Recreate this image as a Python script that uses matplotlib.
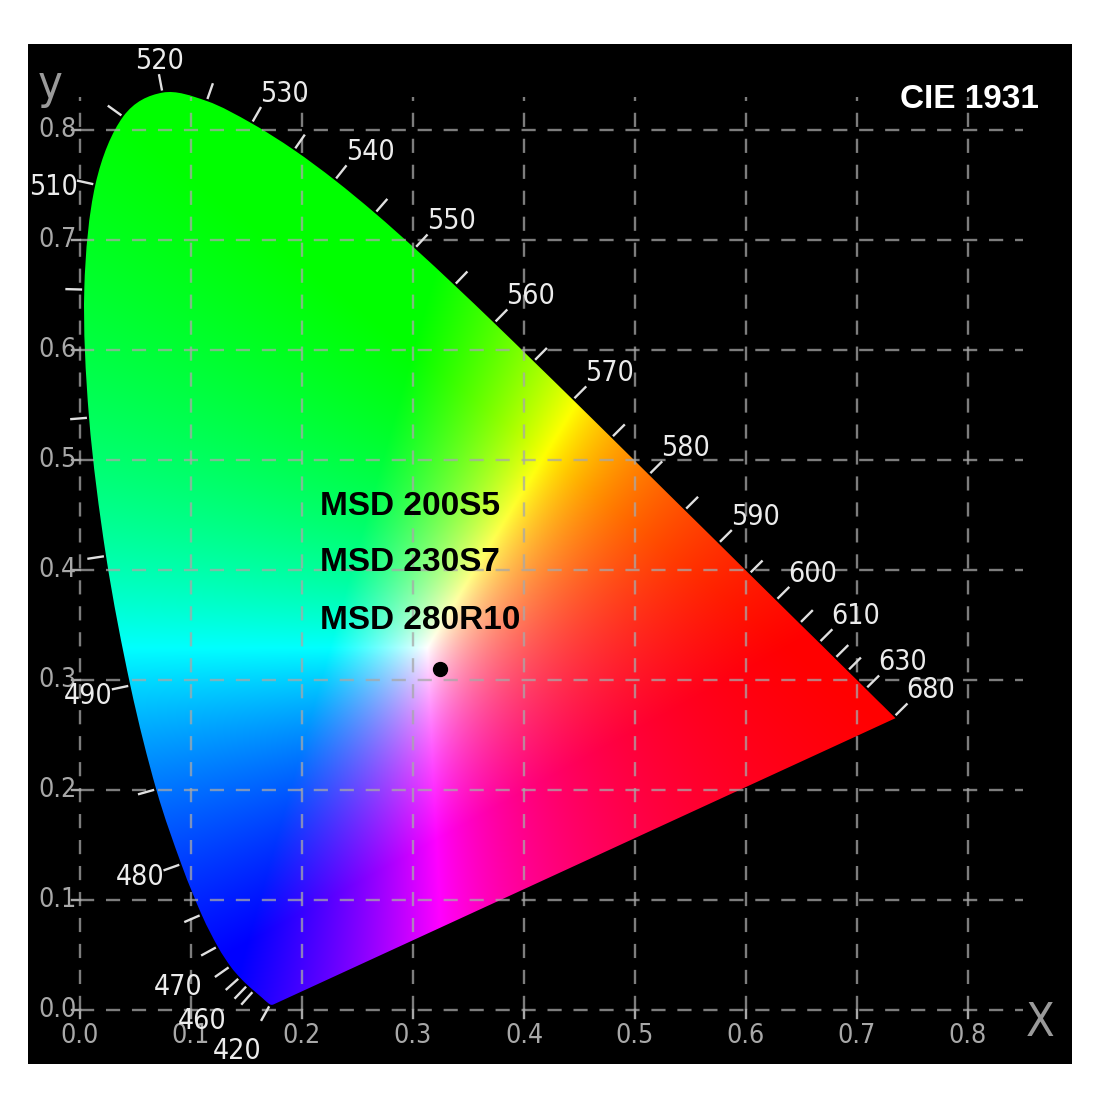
import numpy as np
import matplotlib
matplotlib.use("Agg")
import matplotlib.pyplot as plt
from matplotlib.patches import PathPatch
from matplotlib.path import Path
from matplotlib import font_manager
from matplotlib.font_manager import FontProperties

# CIE 1931 spectral locus, 5 nm steps
wavelengths = [380, 385, 390, 395, 400, 405, 410, 415, 420, 425, 430, 435, 440, 445,
               450, 455, 460, 465, 470, 475, 480, 485, 490, 495, 500, 505, 510, 515,
               520, 525, 530, 535, 540, 545, 550, 555, 560, 565, 570, 575, 580, 585,
               590, 595, 600, 605, 610, 615, 620, 625, 630, 635, 640, 645, 650, 655,
               660, 665, 670, 675, 680, 685, 690, 695, 700]
locus_x = [0.1741, 0.1740, 0.1738, 0.1736, 0.1733, 0.1730, 0.1726, 0.1721, 0.1714,
           0.1703, 0.1689, 0.1669, 0.1644, 0.1611, 0.1566, 0.1510, 0.1440, 0.1355,
           0.1241, 0.1096, 0.0913, 0.0687, 0.0454, 0.0235, 0.0082, 0.0039, 0.0139,
           0.0389, 0.0743, 0.1142, 0.1547, 0.1929, 0.2296, 0.2658, 0.3016, 0.3373,
           0.3731, 0.4087, 0.4441, 0.4788, 0.5125, 0.5448, 0.5752, 0.6029, 0.6270,
           0.6482, 0.6658, 0.6801, 0.6915, 0.7006, 0.7079, 0.7140, 0.7190, 0.7230,
           0.7260, 0.7283, 0.7300, 0.7311, 0.7320, 0.7327, 0.7334, 0.7340, 0.7344,
           0.7346, 0.7347]
locus_y = [0.0050, 0.0050, 0.0049, 0.0049, 0.0048, 0.0048, 0.0048, 0.0048, 0.0051,
           0.0058, 0.0069, 0.0086, 0.0109, 0.0138, 0.0177, 0.0227, 0.0297, 0.0399,
           0.0578, 0.0868, 0.1327, 0.2007, 0.2950, 0.4127, 0.5384, 0.6548, 0.7502,
           0.8120, 0.8338, 0.8262, 0.8059, 0.7816, 0.7543, 0.7243, 0.6923, 0.6589,
           0.6245, 0.5896, 0.5547, 0.5202, 0.4866, 0.4544, 0.4242, 0.3965, 0.3725,
           0.3514, 0.3340, 0.3197, 0.3083, 0.2993, 0.2920, 0.2859, 0.2809, 0.2770,
           0.2740, 0.2717, 0.2700, 0.2689, 0.2680, 0.2673, 0.2666, 0.2660, 0.2656,
           0.2654, 0.2653]

label_wl = [420, 460, 470, 480, 490, 510, 520, 530, 540, 550, 560, 570, 580, 590,
            600, 610, 630, 680]
tick_wl = [420] + list(range(450, 625, 5)) + [630, 680]

grid_ticks = [0.0, 0.1, 0.2, 0.3, 0.4, 0.5, 0.6, 0.7, 0.8]
tick_labels = ["0.0", "0.1", "0.2", "0.3", "0.4", "0.5", "0.6", "0.7", "0.8"]

point_xy = (0.324, 0.310)
names = ["MSD 200S5", "MSD 230S7", "MSD 280R10"]
names_y = [0.458, 0.407, 0.354]

# look for a condensed font for the gray tick texts
cond_file = None
for f in font_manager.fontManager.ttflist:
    low = f.fname.lower()
    if ("narrow" in low or "condensed" in low) and "bold" not in low and "oblique" not in low \
            and "italic" not in low and "mono" not in low and "serif" not in low:
        cond_file = f.fname
        break


def tick_font(size):
    if cond_file:
        return FontProperties(fname=cond_file, size=size * 1.2)
    return FontProperties(family="DejaVu Sans", size=size)


fig = plt.figure(figsize=(11, 11), dpi=100, facecolor="white")
ax = fig.add_axes([28 / 1100, 1 - 1064 / 1100, 1044 / 1100, 1020 / 1100])
ax.set_xlim(-0.0468, 0.8937)
ax.set_ylim(-0.049, 0.878)
ax.axis("off")
ax.add_patch(plt.Rectangle((0, 0), 1, 1, transform=ax.transAxes, color="black", zorder=0))

# colour fill of the horseshoe
xs = np.linspace(0, 0.75, 750)
ys = np.linspace(0.001, 0.85, 850)
X, Y = np.meshgrid(xs, ys)
XX = X / Y
ZZ = (1 - X - Y) / Y
M = np.array([[3.2406, -1.5372, -0.4986],
              [-0.9689, 1.8758, 0.0415],
              [0.0557, -0.2040, 1.0570]])
rgb = np.stack([M[i, 0] * XX + M[i, 1] + M[i, 2] * ZZ for i in range(3)], axis=-1)
rgb = np.clip(rgb, 0, None)
rgb = rgb / rgb.max(axis=-1, keepdims=True)

im = ax.imshow(rgb, origin="lower", extent=[0, 0.75, 0.001, 0.85],
               interpolation="bilinear", zorder=1, aspect="auto")

# smooth outline through the locus points (Catmull-Rom as cubic Bezier)
pts = np.column_stack([locus_x, locus_y])
verts = [pts[0]]
codes = [Path.MOVETO]
for k in range(len(pts) - 1):
    p0 = pts[max(k - 1, 0)]
    p1 = pts[k]
    p2 = pts[k + 1]
    p3 = pts[min(k + 2, len(pts) - 1)]
    verts += [p1 + (p2 - p0) / 6, p2 - (p3 - p1) / 6, p2]
    codes += [Path.CURVE4] * 3
verts += [pts[0], pts[0]]
codes += [Path.LINETO, Path.CLOSEPOLY]
horseshoe = PathPatch(Path(verts, codes), transform=ax.transData,
                      facecolor="none", edgecolor="none")
ax.add_patch(horseshoe)
im.set_clip_path(horseshoe)

# dashed grid on top
for v in grid_ticks:
    ax.plot([v, v], [0, 0.83], color="#a8a8a8", lw=1.7, ls=(0, (6, 5)), alpha=0.75, zorder=2)
    ax.plot([0, 0.85], [v, v], color="#a8a8a8", lw=1.7, ls=(0, (6, 5)), alpha=0.75, zorder=2)
    ax.plot([-0.007, 0], [v, v], color="#a8a8a8", lw=1.7, zorder=2)
    ax.plot([v, v], [-0.007, 0], color="#a8a8a8", lw=1.7, zorder=2)

for v, t in zip(grid_ticks, tick_labels):
    ax.text(-0.003, v, t, ha="right", va="center", color="#a8a8a8",
            fontproperties=tick_font(16), zorder=3)
    ax.text(v, -0.012, t, ha="center", va="top", color="#a8a8a8",
            fontproperties=tick_font(16), zorder=3)

ax.text(-0.027, 0.84, "y", ha="center", va="center", color="#9a9a9a",
        fontproperties=tick_font(28))
ax.text(0.865, -0.012, "X", ha="center", va="center", color="#9a9a9a",
        fontproperties=tick_font(28))

# wavelength ticks and labels
lx = np.array(locus_x)
ly = np.array(locus_y)
wl = list(wavelengths)


def normal_at(w):
    i = wl.index(w)
    tx = lx[i + 1] - lx[i - 1]
    ty = ly[i + 1] - ly[i - 1]
    n = np.hypot(tx, ty)
    return -ty / n, tx / n


for w in tick_wl:
    i = wl.index(w)
    nx, ny = normal_at(w)
    ax.plot([lx[i] + 0.003 * nx, lx[i] + 0.016 * nx],
            [ly[i] + 0.003 * ny, ly[i] + 0.016 * ny],
            color="#e0e0e0", lw=1.7, zorder=3)

for w in label_wl:
    i = wl.index(w)
    nx, ny = normal_at(w)
    ha = "left" if nx > 0.35 else ("right" if nx < -0.35 else "center")
    va = "bottom" if ny > 0.35 else ("top" if ny < -0.35 else "center")
    dy = {"top": -0.016, "center": -0.006, "bottom": 0.0}[va]
    ax.text(lx[i] + 0.016 * nx, ly[i] + 0.016 * ny + dy, str(w),
            ha=ha, va=va, color="#ececec", fontproperties=tick_font(17), zorder=3)

# measured point and lamp names
ax.plot(point_xy[0], point_xy[1], "o", color="black", markersize=10, zorder=4)
for s, yy in zip(names, names_y):
    ax.text(0.216, yy, s, ha="left", va="center", color="black", fontsize=24,
            fontweight="bold", family="Liberation Sans", zorder=4)

ax.text(0.864, 0.828, "CIE 1931", ha="right", va="center", color="white",
        fontsize=24, fontweight="bold", family="Liberation Sans", zorder=4)

fig.savefig("out.png", dpi=100, facecolor="white")
